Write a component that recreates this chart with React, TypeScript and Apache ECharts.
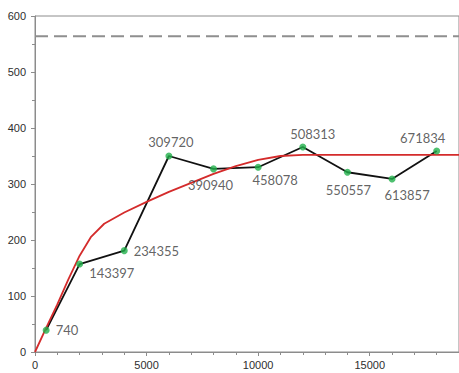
import React, { useEffect, useRef } from "react";
import * as echarts from "echarts";

const sampleX = [500, 2000, 4000, 6000, 8000, 10000, 12000, 14000, 16000, 18000];
const sampleY = [39, 157, 181, 350, 327, 330, 366, 321, 309, 359];
const sampleLabels = ["740", "143397", "234355", "309720", "390940", "458078", "508313", "550557", "613857", "671834"];

const fitX = [0, 500, 1000, 1500, 2000, 2500, 3100, 4000, 5000, 6000, 7000, 8000, 9000, 10000, 11000, 12000, 19000];
const fitY = [0, 43, 85, 130, 172, 205, 229, 249, 268, 286, 302, 318, 332, 343, 350, 352, 352];

const limitValue = 564;
const xMax = 19000;

// label placement (style only)
const labelPlacement: { position: string; offset: [number, number] }[] = [
  { position: "right", offset: [2, 0] },
  { position: "right", offset: [2, 9] },
  { position: "right", offset: [2, 0] },
  { position: "top", offset: [2, 0] },
  { position: "bottom", offset: [-3, 2] },
  { position: "bottom", offset: [17, -1] },
  { position: "top", offset: [10, 1] },
  { position: "bottom", offset: [1, 4] },
  { position: "bottom", offset: [15, 2] },
  { position: "top", offset: [-14, 1] },
];

export default function App() {
  const ref = useRef<HTMLDivElement>(null);
  useEffect(() => {
    if (!ref.current) return;
    const chart = echarts.init(ref.current, undefined, { renderer: "svg" });
    const scatterData = sampleX.map((x, i) => ({
      value: [x, sampleY[i]],
      label: {
        show: true,
        formatter: sampleLabels[i],
        position: labelPlacement[i].position,
        offset: labelPlacement[i].offset,
        distance: 4,
      },
    }));
    chart.setOption({
      animation: false,
      backgroundColor: "#ffffff",
      grid: {
        left: 35,
        top: 16,
        width: 427,
        height: 336,
        show: true,
        borderColor: "#8c8c8c",
        borderWidth: 1,
      },
      xAxis: {
        type: "value",
        min: 0,
        max: xMax,
        interval: 5000,
        splitLine: { show: false },
        axisLine: { show: true, lineStyle: { color: "#8c8c8c", width: 1 } },
        axisTick: { show: true, length: 4, lineStyle: { color: "#8c8c8c" } },
        minorTick: { show: true, splitNumber: 5, length: 3, lineStyle: { color: "#8c8c8c" } },
        axisLabel: {
          color: "#2e2e2e",
          fontFamily: "Liberation Sans",
          fontSize: 11,
          margin: 7,
          showMaxLabel: false,
          formatter: (v: number) => String(v),
        },
      },
      yAxis: {
        type: "value",
        min: 0,
        max: 600,
        interval: 100,
        splitLine: { show: false },
        axisLine: { show: true, lineStyle: { color: "#8c8c8c", width: 1 } },
        axisTick: { show: true, length: 4, lineStyle: { color: "#8c8c8c" } },
        minorTick: { show: true, splitNumber: 2, length: 3, lineStyle: { color: "#8c8c8c" } },
        axisLabel: {
          color: "#2e2e2e",
          fontFamily: "Liberation Sans",
          fontSize: 11,
          margin: 9,
          formatter: (v: number) => String(v),
        },
      },
      series: [
        {
          type: "line",
          data: [
            [0, limitValue],
            [xMax, limitValue],
          ],
          showSymbol: false,
          lineStyle: { color: "#8f8f8f", width: 2, type: [13, 6] },
          silent: true,
          z: 1,
        },
        {
          type: "line",
          data: sampleX.map((x, i) => [x, sampleY[i]]),
          showSymbol: false,
          lineStyle: { color: "#111111", width: 1.8 },
          z: 2,
        },
        {
          type: "line",
          data: fitX.map((x, i) => [x, fitY[i]]),
          showSymbol: false,
          smooth: false,
          lineStyle: { color: "#d42b2b", width: 1.8 },
          z: 3,
        },
        {
          type: "scatter",
          data: scatterData,
          symbolSize: 7,
          itemStyle: { color: "#22b04b" },
          label: {
            color: "#3a3a3a",
            fontFamily: "Lato",
            fontSize: 13,
          },
          z: 4,
        },
      ],
    });
    return () => chart.dispose();
  }, []);
  return <div ref={ref} style={{ width: 459, height: 373, position: "absolute", left: 0, top: 0 }} />;
}
